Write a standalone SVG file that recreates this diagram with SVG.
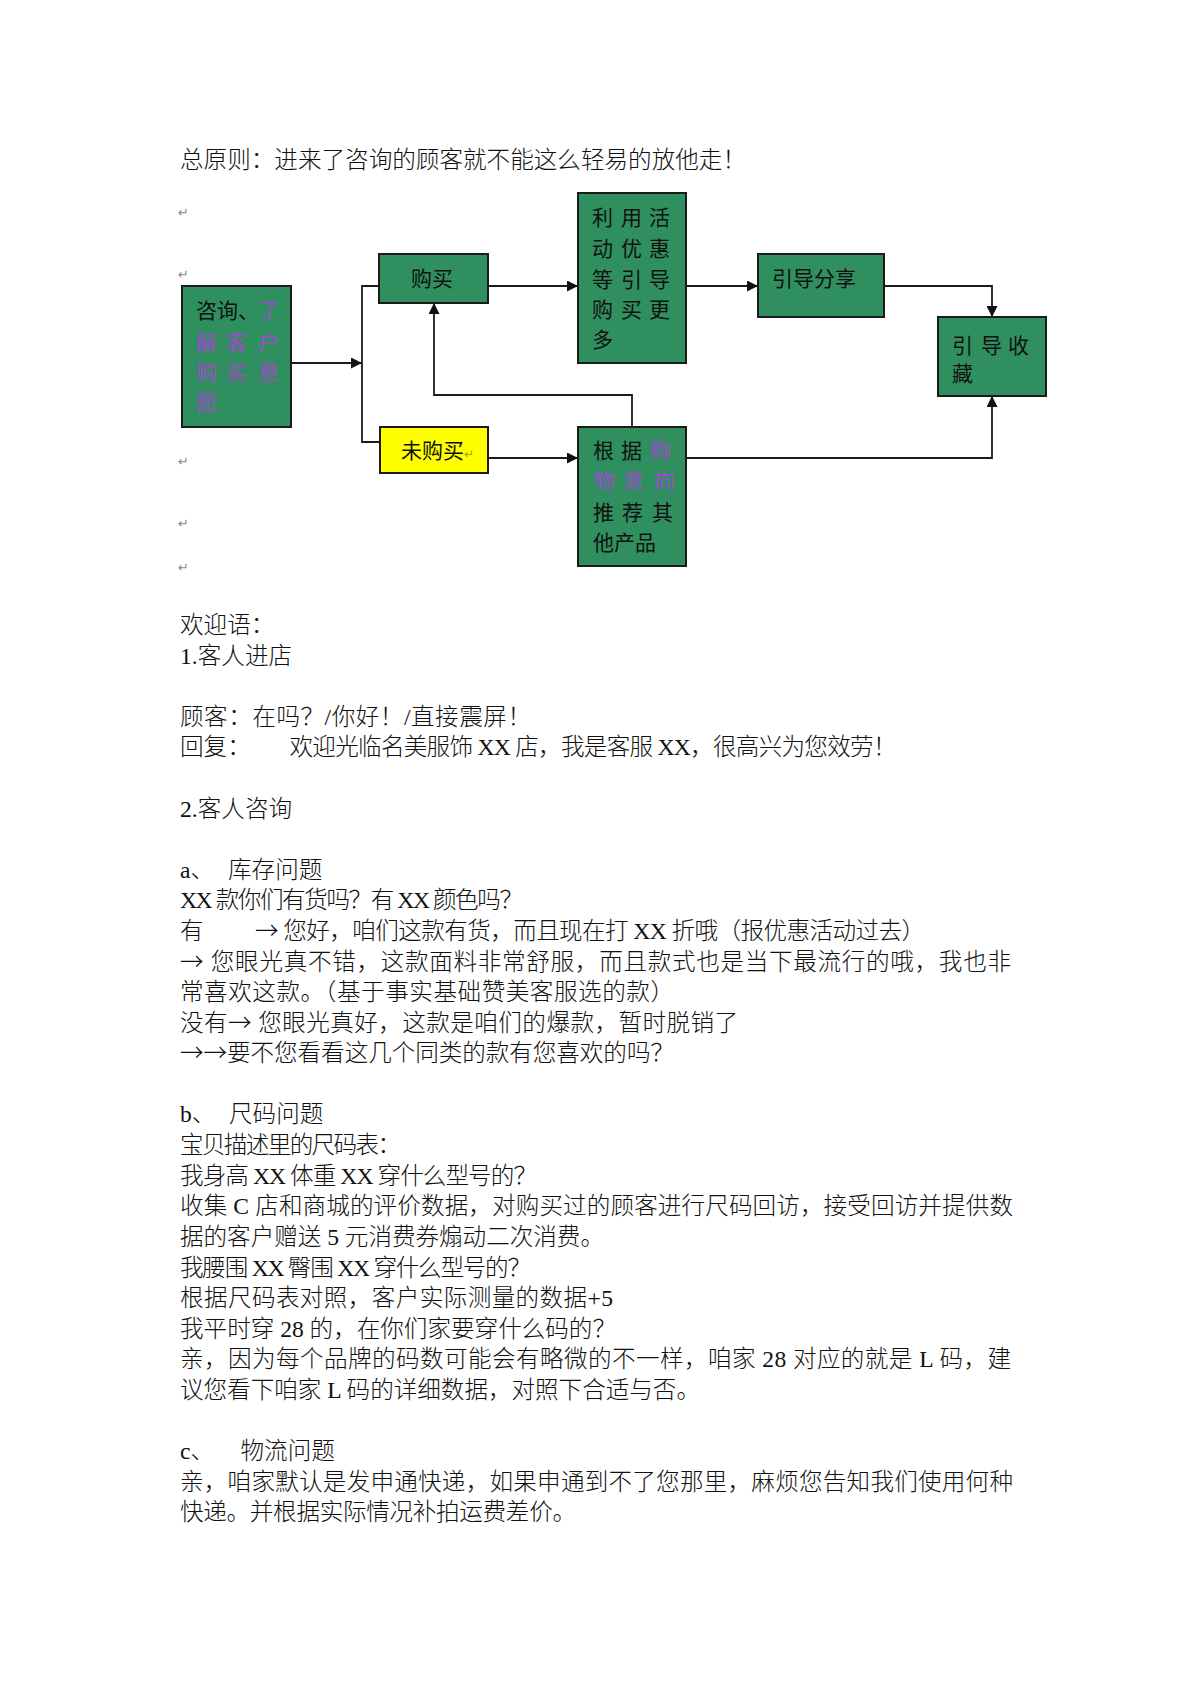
<svg xmlns="http://www.w3.org/2000/svg" width="1191" height="1684" viewBox="0 0 1191 1684">
<style>
.doc{font-family:"Liberation Serif","Noto Sans CJK SC",serif;font-size:23.6px;font-weight:300;fill:#111}
.ar{font-family:"Noto Sans CJK SC",sans-serif}
.bx{fill:#2f8f5e;stroke:#1b1b1b;stroke-width:2}
.yl{fill:#ffff00;stroke:#1b1b1b;stroke-width:2}
.bt{font-family:"Noto Sans CJK SC",sans-serif;font-size:21px;fill:#111}
.pu{fill:#a347d1}
.ln{fill:none;stroke:#1b1b1b;stroke-width:1.8}
.rt{font-family:"DejaVu Sans",sans-serif;font-size:13px;fill:#8a8a8a}
</style>
<defs>
<marker id="ah" viewBox="0 0 10 10" refX="10" refY="5" markerWidth="12" markerHeight="11" markerUnits="userSpaceOnUse" orient="auto">
<path d="M0,0 L10,5 L0,10 z" fill="#111"/>
</marker>
</defs>
<rect width="1191" height="1684" fill="#fff"/>

<text class="doc" x="180" y="168" textLength="566" lengthAdjust="spacing">总原则：进来了咨询的顾客就不能这么轻易的放他走！</text>

<g id="returns">
<text class="rt" x="178" y="217">↵</text>
<text class="rt" x="178" y="279">↵</text>
<text class="rt" x="178" y="466">↵</text>
<text class="rt" x="178" y="528">↵</text>
<text class="rt" x="178" y="572">↵</text>
</g>

<g id="connectors">
<line class="ln" x1="291" y1="363" x2="362" y2="363" marker-end="url(#ah)"/>
<polyline class="ln" points="379,286 362,286 362,442 380,442"/>
<line class="ln" x1="488" y1="286" x2="578" y2="286" marker-end="url(#ah)"/>
<line class="ln" x1="686" y1="286" x2="758" y2="286" marker-end="url(#ah)"/>
<polyline class="ln" points="884,286 992,286 992,317" marker-end="url(#ah)"/>
<line class="ln" x1="488" y1="458" x2="578" y2="458" marker-end="url(#ah)"/>
<polyline class="ln" points="686,458 992,458 992,396" marker-end="url(#ah)"/>
<polyline class="ln" points="632,427 632,395 434,395 434,303" marker-end="url(#ah)"/>
</g>

<g id="consult">
<rect class="bx" x="182" y="286" width="109" height="141"/>
<text class="bt" x="196" y="318">咨询、<tspan class="pu" x="258">了</tspan></text>
<text class="bt pu" x="196 226 258" y="350">解客户</text>
<text class="bt pu" x="196 226 258" y="380">购买意</text>
<text class="bt pu" x="196" y="410">愿</text>
</g>

<g id="buy">
<rect class="bx" x="379" y="254" width="109" height="49"/>
<text class="bt" x="411" y="286">购买</text>
</g>

<g id="promo">
<rect class="bx" x="578" y="193" width="108" height="170"/>
<text class="bt" x="592 621 649" y="225">利用活</text>
<text class="bt" x="592 621 649" y="256">动优惠</text>
<text class="bt" x="592 621 649" y="287">等引导</text>
<text class="bt" x="592 621 649" y="317">购买更</text>
<text class="bt" x="592" y="347">多</text>
</g>

<g id="share">
<rect class="bx" x="758" y="254" width="126" height="63"/>
<text class="bt" x="772" y="286">引导分享</text>
</g>

<g id="favorite">
<rect class="bx" x="938" y="317" width="108" height="79"/>
<text class="bt" x="952 981 1008" y="353">引导收</text>
<text class="bt" x="952" y="381">藏</text>
</g>

<g id="notbuy">
<rect class="yl" x="380" y="427" width="108" height="46"/>
<text class="bt" x="401" y="458">未购买<tspan style="font-family:'DejaVu Sans',sans-serif;font-size:12px;fill:#a4a000">↵</tspan></text>
</g>

<g id="recommend">
<rect class="bx" x="578" y="427" width="108" height="139"/>
<text class="bt" x="593 621" y="458">根据<tspan class="pu" x="650">购</tspan></text>
<text class="bt pu" x="594 623 654" y="488">物意向</text>
<text class="bt" x="593 622 652" y="520">推荐其</text>
<text class="bt" x="593" y="550">他产品</text>
</g>

<g id="body" class="doc">
<text x="180" y="633">欢迎语：</text>
<text x="180" y="664">1.客人进店</text>
<text x="180" y="725" textLength="351" lengthAdjust="spacing">顾客：在吗？/你好！/直接震屏！</text>
<text x="180" y="755">回复：</text>
<text x="289.5" y="755" textLength="607" lengthAdjust="spacing">欢迎光临名美服饰 XX 店，我是客服 XX，很高兴为您效劳！</text>
<text x="180" y="817">2.客人咨询</text>
<text x="180" y="878">a、</text>
<text x="228" y="878">库存问题</text>
<text x="180" y="908" textLength="343" lengthAdjust="spacing">XX 款你们有货吗？有 XX 颜色吗？</text>
<text x="180" y="939">有</text>
<text x="255" y="939" textLength="670" lengthAdjust="spacing"><tspan class="ar">→</tspan> 您好，咱们这款有货，而且现在打 XX 折哦（报优惠活动过去）</text>
<text x="180" y="970" textLength="831" lengthAdjust="spacing"><tspan class="ar">→</tspan> 您眼光真不错，这款面料非常舒服，而且款式也是当下最流行的哦，我也非</text>
<text x="180" y="1000" textLength="494" lengthAdjust="spacing">常喜欢这款。（基于事实基础赞美客服选的款）</text>
<text x="180" y="1031" textLength="558" lengthAdjust="spacing">没有<tspan class="ar">→</tspan> 您眼光真好，这款是咱们的爆款，暂时脱销了</text>
<text x="180" y="1061" textLength="494" lengthAdjust="spacing"><tspan class="ar">→→</tspan>要不您看看这几个同类的款有您喜欢的吗？</text>
<text x="180" y="1122">b、</text>
<text x="229" y="1122">尺码问题</text>
<text x="180" y="1153" textLength="221" lengthAdjust="spacing">宝贝描述里的尺码表：</text>
<text x="180" y="1184" textLength="357" lengthAdjust="spacing">我身高 XX 体重 XX 穿什么型号的？</text>
<text x="180" y="1214" textLength="833" lengthAdjust="spacing">收集 C 店和商城的评价数据，对购买过的顾客进行尺码回访，接受回访并提供数</text>
<text x="180" y="1245" textLength="424" lengthAdjust="spacing">据的客户赠送 5 元消费券煽动二次消费。</text>
<text x="180" y="1276" textLength="351" lengthAdjust="spacing">我腰围 XX 臀围 XX 穿什么型号的？</text>
<text x="180" y="1306" textLength="433" lengthAdjust="spacing">根据尺码表对照，客户实际测量的数据+5</text>
<text x="180" y="1337" textLength="436" lengthAdjust="spacing">我平时穿 28 的，在你们家要穿什么码的？</text>
<text x="180" y="1367" textLength="831" lengthAdjust="spacing">亲，因为每个品牌的码数可能会有略微的不一样，咱家 28 对应的就是 L 码，建</text>
<text x="180" y="1398" textLength="520" lengthAdjust="spacing">议您看下咱家 L 码的详细数据，对照下合适与否。</text>
<text x="180" y="1459">c、</text>
<text x="240.5" y="1459">物流问题</text>
<text x="180" y="1490" textLength="833" lengthAdjust="spacing">亲，咱家默认是发申通快递，如果申通到不了您那里，麻烦您告知我们使用何种</text>
<text x="180" y="1520" textLength="396" lengthAdjust="spacing">快递。并根据实际情况补拍运费差价。</text>
</g>
</svg>
